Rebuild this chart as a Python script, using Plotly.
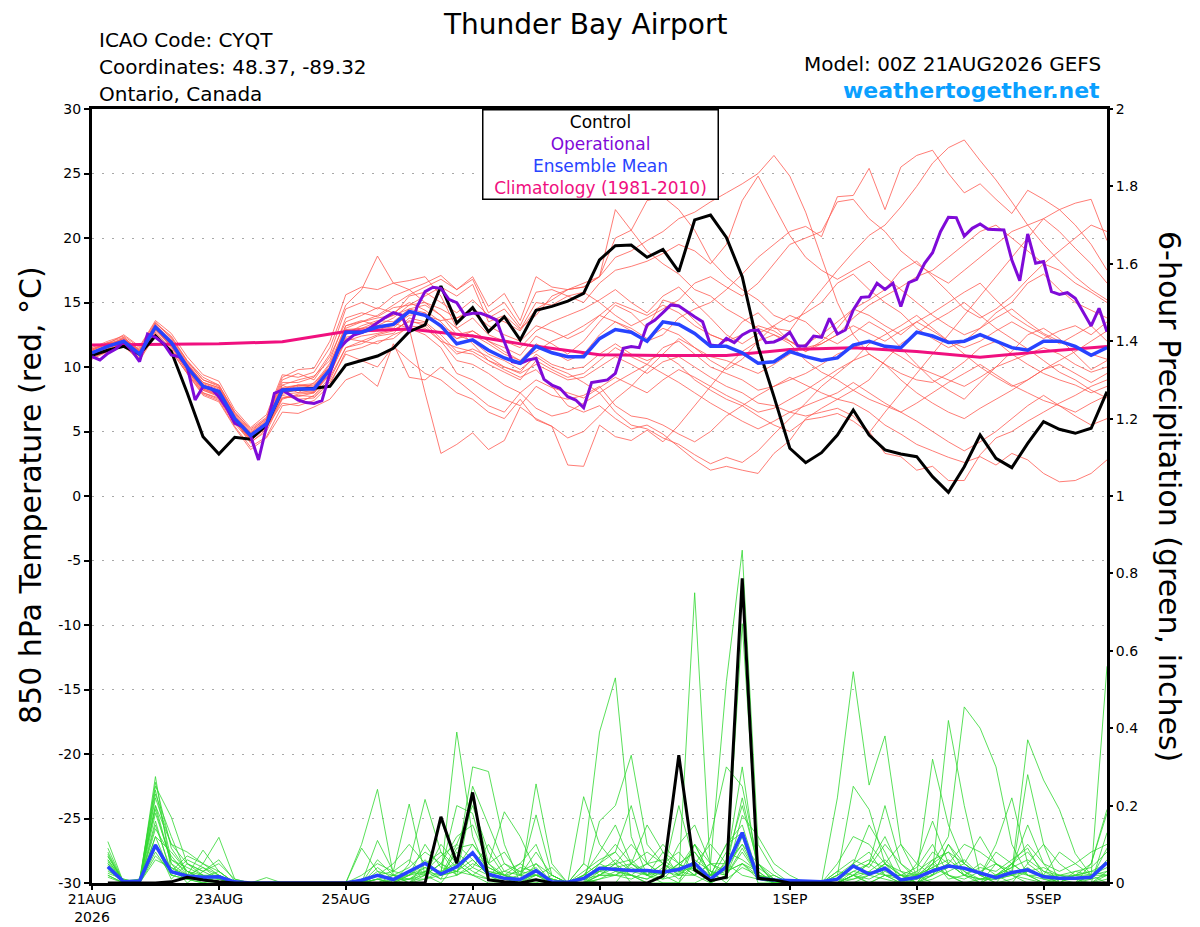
import pandas as pd
import plotly.graph_objects as go

# ---- run info ----
run_start = "2026-08-21 00:00"
tick_dates = ["2026-08-21", "2026-08-23", "2026-08-25", "2026-08-27",
              "2026-08-29", "2026-09-01", "2026-09-03", "2026-09-05"]
tick_text = ["21AUG<br>2026", "23AUG", "25AUG", "27AUG", "29AUG", "1SEP", "3SEP", "5SEP"]
temp_ticks = [-30, -25, -20, -15, -10, -5, 0, 5, 10, 15, 20, 25, 30]
temp_tick_text = ["-30", "-25", "-20", "-15", "-10", "-5", "0", "5", "10", "15", "20", "25", "30"]

# ---- 850 hPa temperature (deg C), 6-hourly from 00Z 21AUG ----
ens_mean_t = [11.1, 11.6, 12.0, 11.0, 13.1, 11.9, 10.0, 8.5, 8.1, 6.0,
              4.7, 5.6, 8.2, 8.3, 8.3, 9.8, 12.7, 12.7, 13.1, 13.3,
              14.3, 14.0, 13.2, 11.8, 12.1, 11.3, 10.7, 10.3, 11.6, 11.1,
              10.8, 10.8, 12.2, 12.9, 12.7, 12.0, 13.5, 13.3, 12.6, 11.6,
              11.6, 11.1, 10.3, 10.4, 11.2, 10.8, 10.5, 10.7, 11.7, 12.0,
              11.6, 11.5, 12.7, 12.4, 11.9, 12.0, 12.5, 12.0, 11.5, 11.3,
              12.0, 12.0, 11.6, 10.9, 11.5]

control_t = [10.9, 11.3, 11.6, 11.0, 12.4, 11.2, 8.0, 4.6, 3.25, 4.55,
             4.4, 5.5, 8.2, 8.27, 8.35, 8.5, 10.15, 10.5, 10.85, 11.45,
             12.74, 13.26, 16.28, 13.4, 14.6, 12.74, 13.9, 12.1, 14.4, 14.7,
             15.1, 15.7, 18.3, 19.4, 19.46, 18.5, 19.12, 17.39, 21.4, 21.78,
             20.05, 17.0, 11.58, 7.7, 3.7, 2.58, 3.36, 4.73, 6.67, 4.73,
             3.57, 3.26, 3.05, 1.5, 0.28, 2.27, 4.73, 2.92, 2.2, 4.08,
             5.76, 5.17, 4.86, 5.25, 8.09]

# operational run is 3-hourly
operational_t = [10.8, 10.55, 11.06, 11.4, 11.96, 11.3, 10.41, 12.56, 12.3, 11.84,
                 10.93, 10.8, 10.03, 7.44, 8.47, 8.35, 7.7, 6.8, 5.63, 5.37,
                 4.65, 2.79, 5.37, 7.96, 8.22, 7.83, 7.44, 7.24, 7.18, 7.39,
                 9.51, 11.32, 11.96, 12.48, 12.66, 13.0, 13.44, 13.85, 14.21, 14.03,
                 12.74, 14.68, 15.84, 16.18, 16.1, 15.25, 14.99, 14.03, 14.16, 14.16,
                 13.95, 13.64, 11.96, 10.41, 10.28, 10.54, 10.67, 9.04, 8.6, 8.35,
                 7.7, 7.44, 6.85, 8.79, 8.9, 9.0, 9.51, 11.45, 11.58, 11.5,
                 13.26, 13.64, 14.21, 14.81, 14.73, 14.29, 13.9, 13.51, 11.7, 11.63,
                 12.22, 11.89, 12.48, 12.82, 12.87, 11.89, 11.94, 12.22, 12.69, 11.63,
                 11.63, 12.4, 12.3, 13.77, 12.56, 12.87, 14.42, 15.4, 15.45, 16.49,
                 16.02, 16.49, 14.68, 16.54, 16.8, 18.04, 18.86, 20.49, 21.6, 21.58,
                 20.15, 20.75, 21.09, 20.67, 20.62, 20.62, 18.3, 16.69, 20.31, 18.04,
                 18.17, 15.84, 15.63, 15.76, 15.32, 14.21, 13.18, 14.55, 12.74]

# climatology, one value per day
climatology_t = [11.7, 11.75, 11.8, 11.96, 12.75, 12.95, 12.4, 11.6, 10.95,
                 10.9, 10.9, 11.35, 11.5, 11.2, 10.75, 11.2, 11.58]

# ensemble members
t01 = [10.8, 11.5, 12.3, 11.2, 13.4, 12.4, 10.5, 9.2, 8.6, 6.5, 5.1, 6.0, 9.0, 9.5, 9.0,
       10.8, 13.5, 14.0, 14.6, 14.2, 15.0, 14.4, 13.5, 12.2, 12.8, 12.0, 11.5, 10.9, 12.4, 11.8,
       11.0, 12.0, 13.5, 14.8, 14.2, 13.0, 15.2, 14.8, 13.6, 12.5, 12.0, 13.5, 14.2, 13.0, 12.8,
       14.5, 16.0, 17.5, 18.9, 20.2, 21.0, 22.4, 24.0, 25.8, 27.0, 27.6, 26.0, 24.5, 22.8, 21.0,
       19.5, 18.2, 17.0, 16.0, 15.2]
t02 = [11.3, 11.9, 11.8, 10.8, 12.9, 11.6, 9.8, 8.0, 7.5, 5.6, 4.2, 5.0, 7.5, 7.9, 8.0,
       9.5, 12.5, 13.0, 13.5, 14.0, 15.5, 15.8, 15.0, 14.2, 15.2, 14.0, 13.5, 12.8, 14.5, 15.2,
       16.0, 16.2, 17.0, 18.5, 19.0, 19.8, 20.5, 21.5, 22.0, 22.8, 23.5, 24.2, 25.0, 26.4, 24.8,
       22.0, 18.5, 15.0, 12.5, 11.0, 10.2, 9.5, 9.0, 8.8, 9.5, 10.4, 11.5, 12.0, 11.0, 10.2,
       9.5, 9.0, 8.6, 8.0, 8.5]
t03 = [11.0, 11.4, 12.1, 11.4, 13.0, 11.5, 10.2, 8.8, 8.4, 6.2, 4.9, 5.8, 8.6, 8.0, 8.8,
       10.0, 12.9, 13.0, 12.8, 13.4, 13.0, 8.0, 3.3, 4.0, 4.9, 3.6, 4.3, 6.9, 6.0, 5.4,
       4.5, 5.0, 6.2, 7.5, 8.5, 9.8, 11.0, 12.2, 11.5, 10.5, 9.8, 10.6, 12.0, 13.2, 14.0,
       13.5, 12.4, 11.8, 12.6, 13.5, 12.8, 11.5, 10.2, 9.0, 8.2, 7.5, 8.8, 10.0, 11.2, 12.5,
       13.0, 12.2, 11.0, 9.8, 10.5]
t04 = [11.4, 11.8, 12.5, 11.6, 13.6, 12.6, 10.8, 9.4, 8.9, 6.7, 5.3, 6.3, 9.4, 9.2, 9.6,
       11.5, 14.8, 16.0, 18.6, 16.5, 16.7, 17.0, 15.5, 13.0, 11.8, 10.5, 9.8, 9.2, 9.8, 8.5,
       7.0, 6.5, 7.0, 6.0, 5.2, 5.5, 4.8, 3.8, 2.8, 2.0, 2.3, 2.0, 1.75, 3.3, 4.3,
       6.0, 6.8, 7.5, 8.2, 9.0, 10.5, 11.8, 12.6, 13.5, 14.2, 15.0, 14.0, 13.0, 12.2, 11.4,
       10.5, 9.6, 9.0, 8.2, 7.6]
t05 = [10.6, 11.2, 11.7, 10.6, 12.6, 11.2, 9.5, 7.9, 7.4, 5.4, 3.8, 4.6, 7.0, 7.2, 7.8,
       9.2, 11.5, 11.8, 12.4, 12.6, 13.8, 13.5, 12.5, 11.2, 11.0, 10.2, 9.6, 9.0, 10.5, 9.8,
       9.2, 9.5, 10.5, 11.5, 10.8, 10.2, 11.5, 12.0, 11.0, 10.0, 9.5, 9.0, 8.2, 8.5, 9.2,
       8.6, 8.0, 7.5, 7.2, 6.5, 5.5, 4.8, 4.0, 3.5, 3.0, 2.6, 3.05, 2.4, 3.3, 2.8,
       1.75, 1.1, 1.2, 1.75, 2.8]
t06 = [11.2, 11.7, 12.2, 11.3, 13.2, 12.0, 10.1, 8.6, 8.2, 6.1, 4.6, 5.5, 8.2, 8.6, 8.5,
       10.2, 13.0, 13.5, 14.0, 14.8, 15.6, 16.2, 16.8, 16.0, 17.0, 14.7, 15.7, 13.6, 17.0, 16.2,
       16.0, 16.2, 17.0, 20.0, 20.6, 22.9, 23.2, 22.2, 20.6, 18.3, 17.0, 16.0, 15.2, 14.0, 13.5,
       14.2, 15.0, 16.5, 17.2, 16.0, 15.0, 14.2, 13.0, 12.2, 11.5, 12.0, 13.0, 14.2, 15.0, 16.5,
       17.2, 16.0, 15.0, 14.4, 13.8]
t07 = [11.0, 11.6, 12.0, 10.9, 13.0, 11.8, 10.0, 8.4, 7.9, 5.9, 4.5, 5.4, 8.0, 8.2, 8.0,
       9.7, 12.3, 12.6, 13.0, 13.2, 14.0, 14.2, 13.0, 12.2, 12.5, 11.8, 11.0, 10.5, 11.2, 12.0,
       12.5, 13.2, 14.0, 13.5, 12.8, 12.0, 12.5, 13.8, 14.5, 15.0, 16.0, 17.2, 18.5, 19.5, 20.5,
       20.9, 20.1, 23.2, 23.3, 25.4, 22.2, 25.5, 26.4, 26.8, 25.0, 23.5, 24.2, 23.0, 21.9, 23.7,
       23.0, 22.2, 22.7, 23.0, 19.8]
t08 = [10.9, 11.3, 11.9, 10.8, 12.8, 11.6, 9.6, 8.0, 7.6, 5.8, 4.1, 5.2, 7.8, 7.5, 7.6,
       8.8, 11.0, 10.5, 10.0, 11.6, 10.5, 9.5, 9.0, 8.0, 7.5, 6.5, 6.0, 7.5, 5.9, 5.4,
       2.4, 2.3, 5.5, 4.6, 4.3, 5.1, 4.2, 5.5, 7.0, 8.5, 10.0, 11.2, 12.0, 12.5, 11.8,
       10.5, 9.6, 9.0, 8.2, 7.5, 7.0, 6.5, 7.2, 8.0, 8.8, 9.5, 10.2, 9.4, 8.6, 8.0,
       7.4, 7.0, 6.5, 7.2, 7.8]
t09 = [11.5, 12.0, 12.4, 11.5, 13.5, 12.2, 10.4, 9.0, 8.5, 6.4, 5.0, 6.0, 8.8, 8.8, 9.2,
       11.0, 14.5, 15.0, 14.5, 15.5, 16.0, 15.0, 14.0, 13.0, 13.8, 12.5, 12.0, 11.5, 12.8, 13.5,
       14.0, 14.5, 15.2, 16.0, 15.0, 14.2, 15.5, 16.2, 15.0, 13.8, 12.5, 11.8, 12.6, 13.2, 12.0,
       11.2, 12.0, 13.0, 14.5, 15.2, 16.0, 17.5, 18.2, 17.0, 15.8, 14.5, 13.8, 14.5, 15.5, 16.8,
       18.0, 19.0, 20.0, 21.0, 20.5]
t10 = [10.7, 11.3, 11.6, 10.7, 12.7, 11.4, 9.7, 8.2, 7.7, 5.7, 4.4, 5.3, 7.2, 7.0, 7.4,
       8.6, 11.2, 11.5, 12.0, 12.2, 13.2, 13.0, 12.0, 10.5, 10.2, 9.5, 8.6, 8.0, 9.0, 8.4,
       8.0, 7.6, 8.4, 9.2, 8.6, 8.0, 9.0, 9.8, 9.2, 8.5, 7.8, 7.2, 6.5, 6.8, 7.5,
       8.2, 9.0, 9.8, 10.5, 11.0, 10.2, 9.0, 8.0, 7.2, 6.5, 6.0, 6.8, 7.5, 8.2, 9.0,
       9.8, 10.2, 9.5, 8.8, 9.5]
t11 = [11.2, 11.6, 12.1, 11.1, 13.2, 12.0, 10.2, 8.7, 8.3, 6.2, 4.8, 5.7, 8.4, 8.6, 8.4,
       9.9, 12.6, 13.2, 13.6, 13.5, 14.5, 14.8, 14.0, 12.5, 12.0, 11.0, 10.5, 9.8, 10.8, 10.0,
       9.5, 8.8, 8.0, 6.5, 5.5, 5.2, 4.5, 4.0, 3.2, 2.5, 3.0, 2.6, 3.5, 4.8, 6.0,
       7.2, 8.5, 9.5, 10.5, 11.8, 12.5, 13.2, 14.0, 13.0, 12.0, 11.0, 10.0, 9.2, 8.5, 9.0,
       9.8, 10.5, 11.2, 12.0, 12.8]
t12 = [11.3, 11.8, 12.2, 11.2, 13.3, 12.1, 10.3, 8.8, 8.4, 6.3, 4.9, 5.9, 8.6, 9.0, 9.3,
       10.5, 13.8, 14.2, 13.9, 14.6, 14.8, 15.5, 16.2, 15.5, 16.4, 13.5, 14.0, 12.9, 15.0, 14.8,
       15.5, 15.0, 16.5, 17.5, 17.8, 18.2, 18.8, 19.5, 19.0, 18.0, 19.5, 22.9, 24.8, 22.5, 20.2,
       18.5, 17.5, 16.8, 17.5, 18.2, 17.0, 16.0, 15.0, 14.0, 13.2, 12.5, 13.0, 13.8, 14.5, 13.5,
       12.6, 12.0, 11.5, 11.0, 10.6]
t13 = [10.9, 11.4, 11.8, 10.9, 12.9, 11.7, 9.9, 8.3, 7.9, 5.9, 4.4, 5.4, 7.9, 8.0, 8.1,
       9.5, 12.0, 12.4, 12.6, 12.9, 13.5, 13.4, 12.2, 11.0, 11.4, 10.8, 10.0, 9.6, 11.0, 10.2,
       9.8, 10.0, 11.0, 11.8, 11.0, 10.5, 11.0, 10.2, 9.0, 8.2, 7.5, 7.0, 6.2, 5.5, 5.0,
       5.9, 6.1, 6.4, 5.8, 4.9, 6.5, 8.0, 9.5, 11.0, 12.5, 14.0, 15.5, 17.0, 18.5, 20.0,
       21.5, 22.2, 21.0, 19.5, 17.5]
t14 = [11.1, 11.7, 12.0, 11.0, 13.1, 11.9, 10.0, 8.5, 8.0, 6.0, 4.6, 5.5, 8.1, 8.3, 8.2,
       9.8, 12.8, 13.0, 13.2, 13.0, 14.2, 14.0, 13.6, 13.8, 14.5, 13.8, 14.5, 13.0, 14.0, 15.5,
       16.0, 16.5, 17.0, 22.2, 20.6, 19.0, 18.0, 17.2, 16.0, 15.5, 14.5, 13.8, 13.0, 12.5, 12.0,
       11.5, 11.8, 12.5, 13.8, 14.8, 15.5, 16.2, 17.0, 17.5, 18.5, 19.5, 20.5, 21.0, 20.0, 19.0,
       18.0, 17.5, 16.5, 15.8, 15.0]
t15 = [11.0, 11.5, 12.0, 10.9, 12.9, 11.8, 9.9, 8.3, 7.8, 5.8, 4.4, 5.3, 7.6, 7.8, 7.7,
       9.0, 11.5, 12.0, 11.8, 12.5, 13.0, 12.5, 11.5, 9.5, 9.0, 8.2, 7.5, 7.0, 8.5, 7.8,
       7.5, 7.8, 8.5, 7.0, 6.2, 6.0, 5.5, 4.8, 4.2, 5.0, 6.2, 7.0, 7.8, 8.5, 9.0,
       9.5, 10.2, 11.0, 11.5, 12.0, 11.5, 10.8, 10.0, 9.5, 9.0, 8.5, 9.2, 10.0, 10.5, 11.0,
       11.5, 11.0, 10.2, 9.6, 10.0]
t16 = [11.2, 11.6, 12.0, 11.0, 13.0, 11.9, 10.0, 8.5, 8.1, 6.0, 4.7, 5.6, 8.2, 8.5, 8.6,
       10.0, 13.2, 13.5, 13.8, 14.0, 14.5, 14.2, 13.2, 12.5, 12.8, 12.0, 11.2, 10.5, 11.8, 11.2,
       10.5, 11.0, 12.5, 13.5, 13.0, 12.2, 13.0, 12.5, 11.5, 10.8, 10.5, 10.0, 9.5, 10.2, 11.0,
       11.8, 12.5, 13.5, 14.5, 14.0, 13.2, 12.5, 13.5, 14.2, 15.0, 15.8, 16.5, 15.2, 14.0, 13.2,
       12.5, 11.8, 12.5, 13.2, 12.0]
t17 = [10.9, 11.5, 11.9, 11.0, 13.0, 11.7, 9.8, 8.2, 7.8, 5.8, 4.3, 5.3, 7.6, 7.7, 8.0,
       9.4, 12.2, 12.0, 12.5, 12.8, 13.6, 13.2, 12.0, 11.5, 11.2, 10.5, 10.0, 9.5, 10.2, 9.6,
       9.0, 9.2, 10.0, 10.8, 10.2, 9.5, 10.4, 10.8, 10.0, 9.2, 8.5, 8.0, 7.2, 7.0, 6.5,
       6.2, 6.5, 6.8, 6.2, 5.0, 3.3, 3.05, 2.0, 2.3, 1.2, 1.2, 3.2, 4.5, 5.0, 5.8,
       6.5, 7.2, 7.8, 8.5, 9.0]
t18 = [11.4, 11.9, 12.3, 11.3, 13.4, 12.3, 10.5, 9.0, 8.6, 6.5, 5.2, 6.1, 9.2, 9.8, 9.9,
       12.0, 15.6, 16.2, 16.0, 16.5, 16.0, 16.5, 17.1, 16.0, 16.8, 14.2, 15.0, 13.2, 15.8, 16.0,
       15.5, 15.8, 15.0, 14.0, 13.2, 13.8, 14.5, 15.2, 16.5, 17.0, 16.2, 15.5, 16.5, 18.0, 19.5,
       20.0, 20.5, 22.8, 23.0, 21.5, 20.5, 19.0, 18.0, 17.2, 16.5, 17.5, 18.5, 19.5, 20.5, 21.0,
       21.5, 20.5, 19.2, 18.0, 16.5]
t19 = [10.7, 11.2, 11.6, 10.5, 12.5, 11.3, 9.5, 7.8, 7.3, 5.3, 3.6, 4.5, 6.5, 6.4, 6.9,
       7.5, 9.0, 9.5, 8.5, 11.8, 9.2, 9.0, 10.0, 9.0, 8.0, 7.0, 6.5, 8.0, 6.8, 6.2,
       6.5, 7.2, 8.0, 8.8, 9.5, 10.2, 9.5, 8.8, 8.0, 7.2, 6.5, 5.8, 5.2, 5.8, 6.5,
       7.0, 7.5, 8.0, 8.8, 8.0, 7.2, 6.5, 5.8, 5.0, 4.2, 3.5, 4.2, 5.0, 6.0, 7.0,
       7.8, 7.0, 6.2, 5.5, 6.0]
t20 = [11.3, 11.8, 12.1, 11.2, 13.2, 12.0, 10.2, 8.6, 8.2, 6.1, 4.7, 5.6, 8.3, 8.6, 8.7,
       10.3, 13.2, 13.6, 13.2, 13.8, 14.8, 15.0, 14.5, 13.8, 14.2, 13.2, 12.5, 12.0, 13.2, 12.8,
       12.2, 12.8, 14.0, 15.0, 14.5, 14.0, 14.8, 14.2, 13.2, 12.5, 12.0, 12.5, 13.2, 12.8, 12.0,
       11.2, 11.8, 12.5, 13.2, 12.6, 12.0, 12.8, 13.5, 12.8, 12.0, 11.5, 12.0, 12.8, 13.5, 12.8,
       12.2, 12.8, 13.2, 12.5, 13.5]

# ---- 6-hour precipitation (inches), valid 06Z 21AUG onward ----
ens_mean_p = [0.042, 0.003, 0.005, 0.098, 0.029, 0.018, 0.015, 0.016,
              0.003, 0, 0, 0, 0, 0, 0, 0,
              0.007, 0.02, 0.009, 0.029, 0.051, 0.023, 0.042, 0.078,
              0.023, 0.012, 0.009, 0.032, 0.003, 0.002, 0.012, 0.038,
              0.034, 0.032, 0.032, 0.028, 0.035, 0.051, 0.01, 0.042,
              0.13, 0.012, 0.008, 0.006, 0.003, 0.003, 0.01, 0.044,
              0.023, 0.038, 0.008, 0.014, 0.031, 0.044, 0.038, 0.025,
              0.014, 0.027, 0.034, 0.016, 0.012, 0.012, 0.015, 0.053]
control_p = [0, 0, 0, 0, 0.003, 0.015, 0.008, 0.003,
             0, 0, 0, 0, 0, 0, 0, 0,
             0, 0, 0, 0, 0, 0.171, 0.051, 0.234,
             0.008, 0.003, 0, 0.008, 0, 0, 0, 0,
             0, 0, 0, 0.018, 0.33, 0.034, 0.006, 0.015,
             0.787, 0.012, 0.008, 0, 0, 0, 0, 0,
             0, 0, 0, 0, 0, 0, 0, 0,
             0, 0, 0, 0, 0, 0, 0, 0]
precip_ticks = [0, 0.2, 0.4, 0.6, 0.8, 1.0, 1.2, 1.4, 1.6, 1.8, 2.0]
precip_tick_text = ["0", "0.2", "0.4", "0.6", "0.8", "1", "1.2", "1.4", "1.6", "1.8", "2"]

p01 = [0.107, 0, 0, 0.275, 0.03, 0.01, 0, 0, 0, 0, 0, 0, 0, 0, 0, 0,
       0.1, 0.242, 0.02, 0, 0.05, 0.02, 0.39, 0.12, 0.02, 0, 0, 0.01, 0, 0, 0.05, 0.39,
       0.53, 0.12, 0.02, 0, 0, 0.05, 0, 0.02, 0.12, 0, 0, 0, 0, 0, 0, 0.02,
       0, 0, 0, 0, 0.03, 0.42, 0.2, 0.02, 0, 0, 0, 0, 0, 0, 0.02, 0.56]
p02 = [0.068, 0.005, 0.01, 0.25, 0.17, 0.05, 0.02, 0, 0, 0, 0, 0, 0, 0, 0, 0,
       0, 0.11, 0.03, 0.204, 0.02, 0, 0.05, 0.3, 0.288, 0.1, 0, 0, 0, 0, 0.01, 0,
       0, 0.05, 0.02, 0.08, 0.02, 0.75, 0.03, 0, 0.05, 0.02, 0, 0, 0, 0, 0.02, 0.25,
       0.19, 0.05, 0.02, 0, 0, 0, 0, 0, 0.05, 0.02, 0.28, 0.1, 0, 0, 0, 0.03]
p03 = [0.05, 0, 0, 0.22, 0.1, 0.08, 0.05, 0.118, 0.01, 0, 0, 0, 0, 0, 0, 0,
       0, 0, 0, 0.05, 0.216, 0.08, 0.02, 0.22, 0.05, 0.184, 0.12, 0.03, 0, 0, 0, 0.16,
       0.2, 0.33, 0.1, 0.05, 0.02, 0.1, 0.05, 0.52, 0.86, 0.1, 0.03, 0, 0, 0, 0, 0.05,
       0.02, 0.05, 0, 0, 0.05, 0.02, 0, 0, 0, 0, 0, 0, 0, 0, 0.05, 0.19]
p04 = [0.09, 0, 0.005, 0.2, 0.05, 0.02, 0.085, 0.03, 0, 0, 0.014, 0, 0, 0, 0, 0,
       0.09, 0.03, 0, 0, 0.02, 0.163, 0.05, 0.02, 0, 0, 0, 0.256, 0.05, 0, 0, 0.02,
       0.05, 0, 0, 0.02, 0.2, 0.05, 0, 0.02, 0.67, 0.05, 0, 0, 0, 0, 0.22, 0.546,
       0.253, 0.38, 0.1, 0.02, 0, 0, 0, 0, 0, 0.05, 0.02, 0, 0, 0, 0.02, 0.05]
p05 = [0.03, 0.01, 0, 0.18, 0.06, 0.04, 0.02, 0.01, 0, 0, 0, 0, 0, 0, 0, 0,
       0, 0.02, 0.05, 0.1, 0.05, 0.02, 0.1, 0.06, 0.02, 0.05, 0.02, 0.176, 0.02, 0, 0.223, 0.1,
       0.05, 0.02, 0, 0, 0, 0, 0.02, 0.1, 0.15, 0.02, 0, 0, 0, 0, 0, 0.02,
       0.05, 0.2, 0.05, 0.02, 0.32, 0.15, 0.05, 0.02, 0.1, 0.22, 0.05, 0.02, 0, 0, 0, 0.13]
p06 = [0.06, 0, 0, 0.16, 0.02, 0.06, 0.04, 0.02, 0, 0, 0, 0, 0, 0, 0, 0,
       0, 0, 0, 0.02, 0.1, 0.04, 0.03, 0.08, 0.02, 0, 0, 0.05, 0.02, 0, 0, 0.05,
       0.1, 0.05, 0.15, 0.08, 0.05, 0.02, 0.05, 0.02, 0.175, 0.12, 0.05, 0.02, 0, 0, 0, 0,
       0, 0.02, 0, 0, 0.05, 0.12, 0.455, 0.4, 0.3, 0.1, 0.02, 0, 0, 0, 0, 0]
p07 = [0.02, 0, 0, 0.12, 0.08, 0.03, 0.02, 0, 0, 0, 0, 0, 0, 0, 0, 0,
       0.02, 0.05, 0.03, 0.06, 0.02, 0.1, 0.05, 0.25, 0.15, 0.05, 0.03, 0.02, 0, 0, 0, 0.02,
       0.05, 0.1, 0.05, 0.02, 0.1, 0.15, 0.05, 0.05, 0.1, 0.05, 0, 0, 0, 0, 0.05, 0.12,
       0.1, 0.05, 0.02, 0, 0.02, 0.05, 0.1, 0.08, 0.05, 0.03, 0.37, 0.266, 0.19, 0.076, 0.02, 0]
p08 = [0.04, 0.005, 0, 0.1, 0.01, 0.05, 0.03, 0.05, 0.01, 0, 0, 0, 0, 0, 0, 0,
       0, 0.02, 0.01, 0.03, 0.05, 0.02, 0.08, 0.04, 0.1, 0.03, 0.02, 0.02, 0.04, 0, 0.02, 0.08,
       0.15, 0.05, 0.02, 0.05, 0.03, 0.02, 0.12, 0.3, 0.25, 0.05, 0.02, 0, 0, 0, 0, 0.02,
       0, 0.02, 0, 0.02, 0.08, 0.05, 0.02, 0, 0.02, 0.05, 0.1, 0.05, 0.03, 0.05, 0.08, 0.1]
p09 = [0.07, 0, 0, 0.23, 0.12, 0.02, 0, 0.02, 0, 0, 0, 0, 0, 0, 0, 0,
       0, 0.06, 0.02, 0, 0.03, 0.07, 0.1, 0.2, 0.08, 0.02, 0.05, 0.1, 0, 0, 0.02, 0.05,
       0.08, 0.2, 0.05, 0.02, 0, 0.1, 0.02, 0.05, 0.3, 0.02, 0, 0, 0, 0, 0.02, 0.05,
       0.15, 0.08, 0, 0.05, 0.16, 0.05, 0.02, 0.05, 0.02, 0, 0.05, 0.1, 0.05, 0.02, 0.05, 0.18]
p10 = [0.02, 0, 0, 0.06, 0.04, 0.01, 0.05, 0.03, 0, 0, 0, 0, 0, 0, 0, 0,
       0, 0, 0, 0.03, 0.02, 0.05, 0.03, 0.02, 0.05, 0.02, 0, 0, 0.02, 0, 0, 0.03,
       0.02, 0.05, 0.08, 0.05, 0.02, 0.05, 0.1, 0.05, 0.02, 0.01, 0.02, 0, 0, 0, 0, 0,
       0.02, 0.05, 0.1, 0.05, 0.02, 0.1, 0.05, 0.12, 0.05, 0.02, 0, 0, 0.02, 0.02, 0.03, 0.05]
p11 = [0.055, 0, 0, 0.15, 0.03, 0.07, 0.05, 0.02, 0, 0, 0, 0, 0, 0, 0, 0,
       0, 0.03, 0.02, 0.04, 0.08, 0.05, 0.12, 0.15, 0.05, 0.08, 0.02, 0.04, 0, 0, 0.05, 0.02,
       0.02, 0.02, 0.05, 0.1, 0.05, 0.08, 0.02, 0.03, 0.05, 0.03, 0, 0, 0, 0, 0.03, 0.02,
       0.05, 0.02, 0.02, 0.02, 0.05, 0.08, 0.05, 0.02, 0.08, 0.05, 0.02, 0.02, 0.08, 0.05, 0.02, 0.02]
p12 = [0.08, 0, 0, 0.26, 0.09, 0.03, 0.01, 0, 0, 0, 0, 0, 0, 0, 0, 0,
       0, 0.01, 0, 0.01, 0.04, 0.03, 0.2, 0.18, 0.03, 0.02, 0.03, 0.05, 0, 0, 0, 0.01,
       0.03, 0.02, 0, 0.02, 0.05, 0.02, 0, 0.06, 0.2, 0.05, 0.01, 0, 0, 0, 0, 0.03,
       0.05, 0.12, 0.03, 0, 0.02, 0.1, 0.03, 0, 0.02, 0.04, 0.15, 0.05, 0, 0, 0.01, 0.02]
p13 = [0.045, 0, 0, 0.08, 0.02, 0.01, 0, 0.01, 0, 0, 0, 0, 0, 0, 0, 0,
       0, 0, 0.02, 0.02, 0.05, 0.08, 0.04, 0.1, 0.05, 0.01, 0, 0.02, 0.01, 0, 0, 0.02,
       0.04, 0.05, 0.03, 0.01, 0.05, 0.08, 0.03, 0.02, 0.08, 0.02, 0.01, 0, 0, 0, 0, 0.01,
       0.02, 0.01, 0, 0.01, 0.03, 0.05, 0.02, 0.01, 0.01, 0.02, 0.01, 0, 0.01, 0, 0, 0.02]
p14 = [0.035, 0, 0.01, 0.19, 0.05, 0, 0.03, 0.06, 0.005, 0, 0, 0, 0, 0, 0, 0,
       0.01, 0.02, 0.01, 0.01, 0.02, 0.05, 0.02, 0.04, 0.02, 0.03, 0.05, 0.02, 0.01, 0, 0.01, 0.03,
       0.06, 0.03, 0.02, 0.05, 0.08, 0.03, 0.02, 0.04, 0.1, 0.02, 0.01, 0, 0, 0, 0.01, 0.05,
       0.08, 0.02, 0.01, 0, 0.01, 0.03, 0.05, 0.02, 0, 0.01, 0.03, 0.02, 0, 0.03, 0.02, 0.04]
p15 = [0.075, 0, 0, 0.12, 0.02, 0.01, 0.01, 0, 0, 0, 0, 0, 0, 0, 0, 0,
       0, 0.01, 0, 0.02, 0.03, 0.02, 0.06, 0.03, 0.01, 0.01, 0.02, 0.08, 0.02, 0, 0, 0.01,
       0.02, 0.01, 0.03, 0.02, 0.05, 0.03, 0.02, 0.1, 0.13, 0.02, 0, 0, 0, 0, 0, 0.02,
       0.03, 0.02, 0.02, 0.04, 0.1, 0.02, 0, 0.01, 0.02, 0.03, 0.02, 0.01, 0, 0.02, 0.03, 0.02]
p16 = [0.025, 0.01, 0, 0.14, 0.07, 0.02, 0.04, 0.01, 0, 0, 0, 0, 0, 0, 0, 0,
       0, 0, 0.01, 0.01, 0.03, 0.01, 0.02, 0.05, 0.03, 0.02, 0.01, 0.01, 0, 0, 0.01, 0.02,
       0.02, 0.04, 0.02, 0.03, 0.02, 0.02, 0.05, 0.03, 0.05, 0.01, 0, 0, 0, 0, 0.01, 0.03,
       0.02, 0.05, 0.03, 0.02, 0.04, 0.02, 0.01, 0.03, 0.05, 0.02, 0.03, 0.04, 0.02, 0.01, 0, 0.01]
p17 = [0.06, 0.005, 0, 0.09, 0.04, 0.02, 0.015, 0.03, 0, 0, 0, 0, 0, 0, 0, 0,
       0, 0.01, 0.02, 0.01, 0.01, 0.03, 0.05, 0.02, 0.01, 0, 0.01, 0.02, 0, 0, 0.02, 0.05,
       0.03, 0.02, 0.01, 0.04, 0.01, 0.05, 0.02, 0.01, 0.04, 0.02, 0, 0, 0, 0, 0, 0.02,
       0.01, 0.03, 0.01, 0.03, 0.06, 0.01, 0.02, 0.01, 0.01, 0.02, 0.04, 0.01, 0.01, 0.02, 0.01, 0.06]
p18 = [0.015, 0, 0, 0.2, 0.1, 0.05, 0.03, 0.01, 0, 0, 0, 0, 0, 0, 0, 0,
       0, 0.02, 0.03, 0.02, 0.06, 0.02, 0.03, 0.06, 0.02, 0.01, 0.04, 0.03, 0.01, 0, 0.03, 0.06,
       0.08, 0.03, 0.05, 0.06, 0.03, 0.04, 0.01, 0.08, 0.06, 0.03, 0, 0, 0, 0, 0.03, 0.06,
       0.04, 0.1, 0.05, 0.01, 0.06, 0.08, 0.02, 0.04, 0.03, 0.06, 0.09, 0.02, 0.02, 0.03, 0.04, 0.08]
p19 = [0.05, 0, 0, 0.07, 0.03, 0.02, 0.02, 0.02, 0, 0, 0, 0, 0, 0, 0, 0,
       0, 0.01, 0, 0, 0.01, 0.02, 0.03, 0.08, 0.04, 0.02, 0, 0.03, 0, 0, 0.01, 0.04,
       0.05, 0.06, 0.02, 0.01, 0.02, 0.06, 0.03, 0.02, 0.09, 0.02, 0.01, 0, 0, 0, 0.01, 0.01,
       0.03, 0.06, 0.02, 0.01, 0.02, 0.04, 0.06, 0.02, 0.02, 0.04, 0.06, 0.03, 0.01, 0.02, 0.02, 0.03]
p20 = [0.04, 0, 0.005, 0.24, 0.06, 0.03, 0.01, 0.02, 0, 0, 0, 0, 0, 0, 0, 0,
       0, 0.04, 0.01, 0.02, 0.04, 0.01, 0.09, 0.1, 0.04, 0.02, 0.01, 0.02, 0.01, 0, 0.02, 0.03,
       0.04, 0.02, 0.01, 0.03, 0.04, 0.1, 0.02, 0.04, 0.22, 0.04, 0.01, 0, 0, 0, 0.02, 0.04,
       0.06, 0.04, 0.01, 0.02, 0.04, 0.06, 0.03, 0.01, 0.02, 0.05, 0.08, 0.03, 0.02, 0.01, 0.01, 0.09]

temp_members = [t01, t02, t03, t04, t05, t06, t07, t08, t09, t10,
                t11, t12, t13, t14, t15, t16, t17, t18, t19, t20]
precip_members = [p01, p02, p03, p04, p05, p06, p07, p08, p09, p10,
                  p11, p12, p13, p14, p15, p16, p17, p18, p19, p20]

for m in temp_members:
    assert len(m) == 65, len(m)
for m in precip_members:
    assert len(m) == 64, len(m)

# valid times
times_6h = pd.date_range(run_start, periods=65, freq="6h")
times_3h = pd.date_range(run_start, periods=129, freq="3h")
times_day = pd.date_range(run_start, periods=17, freq="D")
times_precip = times_6h[1:]

FONT = "DejaVu Sans"
C_OPER = "#7f0ad8"
C_MEAN = "#2743ff"
C_CLIM = "#f0107f"

fig = go.Figure()

for m in temp_members:
    fig.add_trace(go.Scatter(x=times_6h, y=m, mode="lines",
                             line=dict(color="#ff5a52", width=0.8),
                             hoverinfo="skip"))
for m in precip_members:
    fig.add_trace(go.Scatter(x=times_precip, y=m, mode="lines", yaxis="y2",
                             line=dict(color="#30d830", width=0.8),
                             hoverinfo="skip"))

fig.add_trace(go.Scatter(x=times_day, y=climatology_t, mode="lines",
                         line=dict(color=C_CLIM, width=3)))
fig.add_trace(go.Scatter(x=times_6h, y=control_t, mode="lines",
                         line=dict(color="black", width=3)))
fig.add_trace(go.Scatter(x=times_3h, y=operational_t, mode="lines",
                         line=dict(color=C_OPER, width=3)))
fig.add_trace(go.Scatter(x=times_6h, y=ens_mean_t, mode="lines",
                         line=dict(color=C_MEAN, width=3.5)))

fig.add_trace(go.Scatter(x=times_precip, y=ens_mean_p, mode="lines", yaxis="y2",
                         line=dict(color=C_MEAN, width=3.5)))
fig.add_trace(go.Scatter(x=times_precip, y=control_p, mode="lines", yaxis="y2",
                         line=dict(color="black", width=3)))

# the page body adds an 8px offset; plot area on screen: x 92..1107, y 109..883
def px(x):
    return (x - 92) / 1015

def py(y):
    return (883 - y) / 774

notes = [
    dict(text="Thunder Bay Airport", x=px(585), y=py(24), xanchor="center", size=28),
    dict(text="ICAO Code: CYQT", x=px(98), y=py(40), xanchor="left", size=20),
    dict(text="Coordinates: 48.37, -89.32", x=px(98), y=py(67), xanchor="left", size=20),
    dict(text="Ontario, Canada", x=px(98), y=py(94), xanchor="left", size=20),
    dict(text="Model: 00Z 21AUG2026 GEFS", x=px(1102), y=py(64), xanchor="right", size=20),
]
annotations = []
for n in notes:
    annotations.append(dict(text=n["text"], x=n["x"], y=n["y"], xref="paper", yref="paper",
                            xanchor=n["xanchor"], yanchor="middle", showarrow=False,
                            borderpad=0,
                            font=dict(family=FONT, size=n["size"], color="black")))

annotations.append(dict(text="<b>weathertogether.net</b>", x=px(1102), y=py(90),
                        xref="paper", yref="paper", xanchor="right", yanchor="middle",
                        showarrow=False,
                        font=dict(family=FONT, size=22, color="#0aa0ff")))

# axis titles
annotations.append(dict(text="850 hPa Temperature (red, °C)", x=px(31), y=py(495),
                        xref="paper", yref="paper", textangle=-90, showarrow=False,
                        xanchor="center", yanchor="middle",
                        font=dict(family=FONT, size=30, color="black")))
annotations.append(dict(text="6-hour Precipitation (green, inches)", x=px(1170), y=py(496),
                        xref="paper", yref="paper", textangle=90, showarrow=False,
                        xanchor="center", yanchor="middle",
                        font=dict(family=FONT, size=30, color="black")))

# legend box
legend_text = ("Control<br>"
               f"<span style='color:{C_OPER}'>Operational</span><br>"
               f"<span style='color:{C_MEAN}'>Ensemble Mean</span><br>"
               f"<span style='color:{C_CLIM}'>Climatology (1981-2010)</span>")
annotations.append(dict(text=legend_text, x=px(600), y=1.0, xref="paper", yref="paper",
                        xanchor="center", yanchor="top", showarrow=False, align="center",
                        width=232, bgcolor="white", bordercolor="black", borderwidth=1.5,
                        borderpad=1, font=dict(family=FONT, size=17, color="black")))

fig.update_layout(
    width=1192,
    height=919,
    margin=dict(l=84, r=93, t=101, b=44),
    paper_bgcolor="white",
    plot_bgcolor="white",
    showlegend=False,
    font=dict(family=FONT, size=14, color="black"),
    annotations=annotations,
    xaxis=dict(
        range=["2026-08-21 00:00", "2026-09-06 00:00"],
        tickvals=tick_dates, ticktext=tick_text,
        ticks="outside", ticklen=4, tickwidth=1.5, tickcolor="black",
        ticklabelstandoff=-3,
        showgrid=False, zeroline=False,
        showline=True, linewidth=3, linecolor="black", mirror=True,
        tickfont=dict(family=FONT, size=14), automargin=False,
    ),
    yaxis=dict(
        range=[-30, 30], tickvals=temp_ticks, ticktext=temp_tick_text,
        ticks="outside", ticklen=5, tickwidth=1.5, tickcolor="black",
        showgrid=True, gridcolor="#a8a8a8", gridwidth=1.2, griddash="2px,8px",
        zeroline=False,
        showline=True, linewidth=3, linecolor="black", mirror=True,
        tickfont=dict(family=FONT, size=14), automargin=False,
    ),
    yaxis2=dict(
        range=[0, 2], tickvals=precip_ticks, ticktext=precip_tick_text,
        overlaying="y", side="right",
        ticks="outside", ticklen=5, tickwidth=1.5, tickcolor="black",
        showgrid=False, zeroline=False, showline=False,
        tickfont=dict(family=FONT, size=14), automargin=False,
    ),
)

fig.write_html("out.html")
